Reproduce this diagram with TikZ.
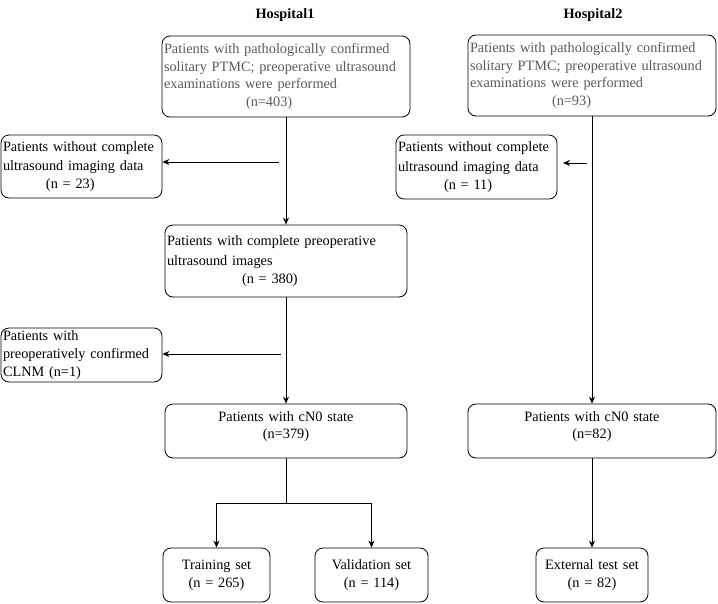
\documentclass[tikz,border=0pt]{standalone}
\usepackage{fontspec}
\setmainfont{Liberation Serif}
\usepackage{xcolor}
\usetikzlibrary{arrows.meta}
\definecolor{greytxt}{HTML}{595959}

\begin{document}
\begin{tikzpicture}[
  x=1pt, y=-1pt,
  box/.style={draw,rounded corners=8pt,inner sep=2pt,line width=0.8pt,
    font=\fontsize{14.3}{17.7}\selectfont},
  title/.style={font=\fontsize{14.3}{17}\selectfont\bfseries},
  line width=0.8pt, ->, >={Stealth[length=7pt,width=6pt]}
]
  \useasboundingbox (0,0) rectangle (718,603);

  \node[title] (t1) at (285,15) {Hospital1};
  \node[title] (t2) at (593,15) {Hospital2};

  % hospital 1
  \node[box,text=greytxt,text width=244pt,minimum height=81pt,align=left] (h1top) at (286,76.5)
    {Patients with pathologically confirmed\\ solitary PTMC; preoperative ultrasound\\ examinations were performed\\ \hspace*{82pt}(n=403)};
  \node[box,text width=157pt,minimum height=63pt,align=left] (ex1) at (81.5,166.5)
    {Patients without complete\\[2pt] ultrasound imaging data\\ \hspace*{43pt}(n = 23)};
  \node[box,text width=238pt,minimum height=72pt,align=left] (mid1) at (286,261)
    {Patients with complete preoperative\\[2pt] ultrasound images\\ \hspace*{75pt}(n = 380)};
  \node[box,text width=157pt,minimum height=54pt,align=left] (clnm) at (81.5,355)
    {Patients with\\ preoperatively confirmed\\ CLNM (n=1)};
  \node[box,text width=238pt,minimum height=54pt,align=center] (cn1) at (286,431)
    {Patients with cN0 state\\[-1pt] (n=379)\rule[-12pt]{0pt}{12pt}};
  \node[box,text width=103pt,minimum height=54pt,align=center] (train) at (216.5,575)
    {Training set\\ (n = 265)};
  \node[box,text width=109pt,minimum height=54pt,align=center] (valid) at (371.5,575)
    {Validation set\\ (n = 114)};

  % hospital 2
  \node[box,text=greytxt,text width=244pt,minimum height=81pt,align=left] (h2top) at (592,75.5)
    {Patients with pathologically confirmed\\ solitary PTMC; preoperative ultrasound\\ examinations were performed\\ \hspace*{82pt}(n=93)};
  \node[box,text width=157pt,minimum height=64pt,align=left] (ex2) at (476.5,167)
    {Patients without complete\\[2pt] ultrasound imaging data\\ \hspace*{46pt}(n = 11)};
  \node[box,text width=244pt,minimum height=54pt,align=center] (cn2) at (592,431)
    {Patients with cN0 state\\[-1pt] (n=82)\rule[-12pt]{0pt}{12pt}};
  \node[box,text width=108pt,minimum height=54pt,align=center] (ext) at (592,575)
    {External test set\\ (n = 82)};

  \coordinate (b1) at (279,162);
  \coordinate (b2) at (281,354);
  \coordinate (b3a) at (587,163);
  \coordinate (b3b) at (563,163);
  \coordinate (split) at (286,503);

  \draw (h1top) -- (mid1);
  \draw (mid1) -- (cn1);
  \draw (b1) -- (ex1.east |- b1);
  \draw (b2) -- (clnm.east |- b2);
  \draw[-] (cn1) -- (split);
  \draw (split) -| (train);
  \draw (split) -| (valid);

  \draw (h2top) -- (cn2);
  \draw (b3a) -- (b3b);
  \draw (cn2) -- (ext);
\end{tikzpicture}
\end{document}
